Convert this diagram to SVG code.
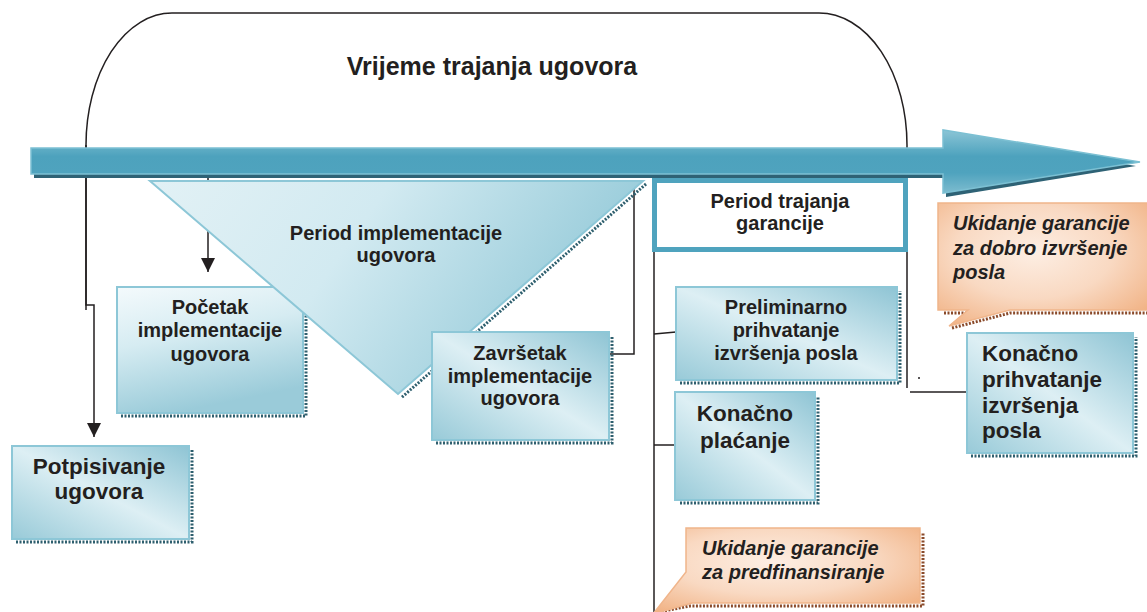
<svg xmlns="http://www.w3.org/2000/svg" width="1147" height="612" viewBox="0 0 1147 612">
<style>
.t{font-family:"Liberation Sans",Arial,Helvetica,sans-serif;font-weight:bold;fill:#231F20}
.c{text-anchor:middle}
.i{font-style:italic}
.ln{stroke:#231F20;stroke-width:1.5;fill:none}
.box{fill:url(#gBlue);stroke:#8DC7D7;stroke-width:2}
.sh{fill:none;stroke:#2E5F6E;stroke-width:3;stroke-dasharray:2 1.5}
.osh{fill:none;stroke:#8A4A2A;stroke-width:3;stroke-dasharray:2 1.5}
.call{fill:url(#gOrange);stroke:#F0B58B;stroke-width:1.5}
</style>
<defs>
<linearGradient id="gBlue" x1="1" y1="0" x2="0" y2="1">
<stop offset="0" stop-color="#8EC4D4"/>
<stop offset="0.5" stop-color="#DDEFF4"/>
<stop offset="1" stop-color="#98CAD8"/>
</linearGradient>
<linearGradient id="gBlue2" x1="0" y1="0" x2="0.3" y2="1">
<stop offset="0" stop-color="#F4FAFC"/>
<stop offset="0.45" stop-color="#D6ECF2"/>
<stop offset="1" stop-color="#9ACBD9"/>
</linearGradient>
<linearGradient id="gTri" x1="0" y1="0" x2="1" y2="0.3">
<stop offset="0" stop-color="#E2F1F5"/>
<stop offset="0.45" stop-color="#D2EAF1"/>
<stop offset="1" stop-color="#93C9D8"/>
</linearGradient>
<radialGradient id="gOrange" cx="0.45" cy="0.4" r="0.75">
<stop offset="0" stop-color="#FDEEE3"/>
<stop offset="0.5" stop-color="#F9D9C2"/>
<stop offset="1" stop-color="#F0AE7E"/>
</radialGradient>
<linearGradient id="gArrow" x1="0" y1="0" x2="0" y2="1">
<stop offset="0" stop-color="#8CC5D6"/>
<stop offset="0.29" stop-color="#60ADC5"/>
<stop offset="0.42" stop-color="#4DA2BD"/>
<stop offset="0.68" stop-color="#4FA3BE"/>
<stop offset="1" stop-color="#7DBCCF"/>
</linearGradient>
<marker id="ah" markerUnits="userSpaceOnUse" markerWidth="14" markerHeight="14" refX="14" refY="7" orient="auto">
<path d="M0,0 L14,7 L0,14 Z" fill="#231F20"/>
</marker>
</defs>

<g id="connectors">
<path class="ln" d="M86,310 V145 A86,132 0 0 1 172,13 H819 A88,132 0 0 1 907,145 V388"/>
<path class="ln" d="M86,145 V305 H94 V437" marker-end="url(#ah)"/>
<path class="ln" d="M208,178 V272" marker-end="url(#ah)"/>
<path class="ln" d="M609,354 H634 V180"/>
<path class="ln" d="M654,172 V612"/>
<path class="ln" d="M654,334 L676,332"/>
<path class="ln" d="M654,445 H676"/>
<path class="ln" d="M910,392 H968"/>
<circle cx="919" cy="378" r="1" fill="#231F20"/>
</g>

<g id="title">
<text class="t c" x="492" y="75" font-size="25">Vrijeme trajanja ugovora</text>
</g>

<g id="arrow">
<polygon points="34,152 946,152 946,134 1136,166 946,197 946,178 34,178" fill="#2E6275"/>
<polygon points="31,148 943,148 943,130 1140,162 943,193 943,174 31,174" fill="url(#gArrow)" stroke="#7CC0D3" stroke-width="1.5"/>
</g>

<g id="node-pocetak">
<path class="sh" d="M121,416 H306 V291"/>
<rect x="117" y="287" width="186" height="126" fill="url(#gBlue2)" stroke="#8DC7D7" stroke-width="2"/>
<text class="t c" font-size="20"><tspan x="210" y="314">Početak</tspan><tspan x="210" y="337">implementacije</tspan><tspan x="210" y="361">ugovora</tspan></text>
</g>

<g id="node-period-impl">
<path class="sh" d="M646,184 L401,398"/>
<polygon points="150,181 643,181 398,394" fill="url(#gTri)" stroke="#8DC7D7" stroke-width="2"/>
<text class="t c" font-size="20"><tspan x="396" y="240">Period implementacije</tspan><tspan x="396" y="262">ugovora</tspan></text>
</g>

<g id="node-zavrsetak">
<path class="sh" d="M436,443 H612 V336"/>
<rect class="box" x="432" y="332" width="177" height="108"/>
<text class="t c" font-size="20"><tspan x="520" y="360">Završetak</tspan><tspan x="520" y="383">implementacije</tspan><tspan x="520" y="405">ugovora</tspan></text>
</g>

<g id="node-potpisivanje">
<path class="sh" d="M16,542 H192 V450"/>
<rect class="box" x="12" y="446" width="177" height="93"/>
<text class="t c" font-size="22.5"><tspan x="99" y="474">Potpisivanje</tspan><tspan x="99" y="499">ugovora</tspan></text>
</g>

<g id="node-period-garancije">
<rect x="654.5" y="180.5" width="251" height="69" fill="#FFFFFF" stroke="#4FA3BE" stroke-width="5"/>
<text class="t c" font-size="20"><tspan x="780" y="208">Period trajanja</tspan><tspan x="780" y="230">garancije</tspan></text>
</g>

<g id="node-preliminarno">
<path class="sh" d="M680,383 H900 V291"/>
<rect class="box" x="676" y="287" width="221" height="93"/>
<text class="t c" font-size="20"><tspan x="786" y="314">Preliminarno</tspan><tspan x="786" y="337">prihvatanje</tspan><tspan x="786" y="360">izvršenja posla</tspan></text>
</g>

<g id="node-konacno-placanje">
<path class="sh" d="M680,503 H818 V396"/>
<rect class="box" x="675" y="392" width="140" height="108"/>
<text class="t c" font-size="22.5"><tspan x="745" y="421">Konačno</tspan><tspan x="745" y="448">plaćanje</tspan></text>
</g>

<g id="node-konacno-prihvatanje">
<path class="sh" d="M971,456 H1136 V337"/>
<rect class="box" x="967" y="333" width="166" height="120"/>
<text class="t" font-size="22.5"><tspan x="982" y="361">Konačno</tspan><tspan x="982" y="387">prihvatanje</tspan><tspan x="982" y="413">izvršenja</tspan><tspan x="982" y="438">posla</tspan></text>
</g>

<g id="callout-dobro">
<path class="osh" d="M944,313 H968 M952,328 L1010,313 H1147"/>
<path class="call" d="M938,203 H1150 V310 H1010 L949,326 L968,310 H938 Z"/>
<text class="t i" font-size="20"><tspan x="953" y="230">Ukidanje garancije</tspan><tspan x="953" y="255">za dobro izvršenje</tspan><tspan x="953" y="279">posla</tspan></text>
</g>

<g id="callout-predfin">
<path class="osh" d="M658,612 L690,606 H923 V532"/>
<path class="call" d="M686,528 H920 V603 H692 L653,614 L686,572 Z"/>
<text class="t i" font-size="20"><tspan x="702" y="555">Ukidanje garancije</tspan><tspan x="702" y="579">za predfinansiranje</tspan></text>
</g>
</svg>
